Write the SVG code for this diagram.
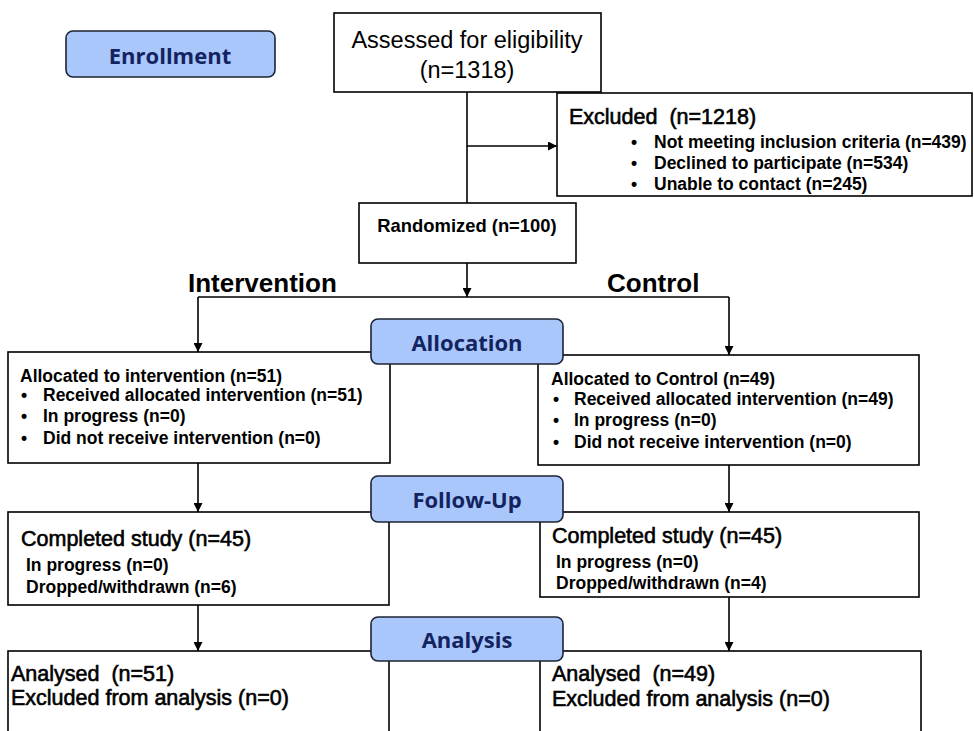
<svg xmlns="http://www.w3.org/2000/svg" width="974" height="731" viewBox="0 0 974 731">
<style>
.box{fill:#fff;stroke:#000;stroke-width:1.6}
.lbl{fill:#a9c7fb;stroke:#1d2433;stroke-width:1.6}
.lt{font-family:"Open Sans",Lato,sans-serif;font-weight:bold;font-size:22px;fill:#13235f;text-anchor:middle}
.t{font-family:"Liberation Sans",Arial,sans-serif;fill:#000}
.h{font-size:21.5px;stroke:#000;stroke-width:0.6}
.b{font-size:17.5px;font-weight:bold}
.g{font-size:26px;font-weight:bold}
.ln{fill:none;stroke:#000;stroke-width:1.6}
</style>
<defs>
<marker id="ah" viewBox="0 0 10 10" refX="10" refY="5" markerWidth="9" markerHeight="9" markerUnits="userSpaceOnUse" orient="auto">
<path d="M0,0 L10,5 L0,10 z" fill="#000"/>
</marker>
</defs>
<g id="connectors">
<path class="ln" d="M467,92 V203"/>
<path class="ln" d="M467,146 H557" marker-end="url(#ah)"/>
<path class="ln" d="M467,263 V297" marker-end="url(#ah)"/>
<path class="ln" d="M198,297 H729"/>
<path class="ln" d="M198,297 V352" marker-end="url(#ah)"/>
<path class="ln" d="M729,297 V355" marker-end="url(#ah)"/>
<path class="ln" d="M198,463 V512" marker-end="url(#ah)"/>
<path class="ln" d="M729,465 V512" marker-end="url(#ah)"/>
<path class="ln" d="M198,605 V651" marker-end="url(#ah)"/>
<path class="ln" d="M729,597 V651" marker-end="url(#ah)"/>
</g>
<g id="enrollment">
<rect class="lbl" x="66" y="31" width="209" height="46" rx="7"/>
<text class="lt" x="170" y="64">Enrollment</text>
</g>
<g id="assessed">
<rect class="box" x="334" y="13" width="267" height="79"/>
<text class="t" x="467" y="48" font-size="23.5" text-anchor="middle">Assessed for eligibility</text>
<text class="t" x="467" y="78" font-size="23.5" text-anchor="middle">(n=1318)</text>
</g>
<g id="excluded">
<rect class="box" x="557" y="93" width="415" height="103"/>
<text class="t h" x="569" y="124" xml:space="preserve">Excluded  (n=1218)</text>
<g class="t b">
<text x="631" y="148">•</text><text x="654" y="148">Not meeting inclusion criteria (n=439)</text>
<text x="631" y="169">•</text><text x="654" y="169">Declined to participate (n=534)</text>
<text x="631" y="190">•</text><text x="654" y="190">Unable to contact (n=245)</text>
</g>
</g>
<g id="randomized">
<rect class="box" x="359" y="203" width="217" height="60"/>
<text class="t b" x="467" y="232" style="font-size:18.4px" text-anchor="middle">Randomized (n=100)</text>
</g>
<text class="t g" x="188" y="292">Intervention</text>
<text class="t g" x="607" y="292">Control</text>
<g id="alloc-left">
<rect class="box" x="8" y="352" width="382" height="111"/>
<g class="t b">
<text x="20" y="382">Allocated to intervention (n=51)</text>
<text x="21" y="401">•</text><text x="43" y="401">Received allocated intervention (n=51)</text>
<text x="21" y="422">•</text><text x="43" y="422">In progress (n=0)</text>
<text x="21" y="444">•</text><text x="43" y="444">Did not receive intervention (n=0)</text>
</g>
</g>
<g id="alloc-right">
<rect class="box" x="538" y="355" width="381" height="110"/>
<g class="t b">
<text x="551" y="385">Allocated to Control (n=49)</text>
<text x="553" y="405">•</text><text x="574" y="405">Received allocated intervention (n=49)</text>
<text x="553" y="426">•</text><text x="574" y="426">In progress (n=0)</text>
<text x="553" y="448">•</text><text x="574" y="448">Did not receive intervention (n=0)</text>
</g>
</g>
<g id="allocation">
<rect class="lbl" x="371" y="319" width="192" height="45" rx="7"/>
<text class="lt" x="467" y="351">Allocation</text>
</g>
<g id="followup-left">
<rect class="box" x="8" y="512" width="381" height="93"/>
<text class="t h" x="21" y="546">Completed study (n=45)</text>
<text class="t b" x="26" y="571">In progress (n=0)</text>
<text class="t b" x="26" y="593">Dropped/withdrawn (n=6)</text>
</g>
<g id="followup-right">
<rect class="box" x="540" y="512" width="379" height="85"/>
<text class="t h" x="552" y="543">Completed study (n=45)</text>
<text class="t b" x="556" y="568">In progress (n=0)</text>
<text class="t b" x="556" y="589">Dropped/withdrawn (n=4)</text>
</g>
<g id="followup">
<rect class="lbl" x="371" y="476" width="192" height="46" rx="7"/>
<text class="lt" x="467" y="508">Follow-Up</text>
</g>
<g id="analysis-left">
<rect class="box" x="8" y="651" width="381" height="100"/>
<text class="t h" x="11" y="681" xml:space="preserve">Analysed  (n=51)</text>
<text class="t h" x="11" y="705">Excluded from analysis (n=0)</text>
</g>
<g id="analysis-right">
<rect class="box" x="540" y="651" width="381" height="100"/>
<text class="t h" x="552" y="681" xml:space="preserve">Analysed  (n=49)</text>
<text class="t h" x="552" y="706">Excluded from analysis (n=0)</text>
</g>
<g id="analysis">
<rect class="lbl" x="371" y="617" width="192" height="44" rx="7"/>
<text class="lt" x="467" y="648">Analysis</text>
</g>
</svg>
